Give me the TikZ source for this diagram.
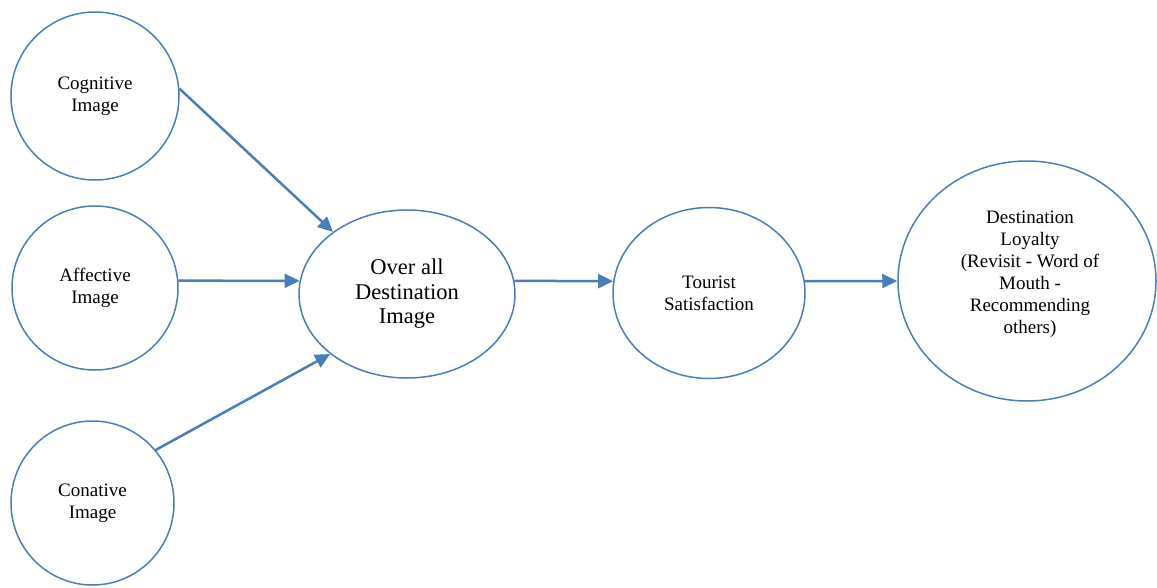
\documentclass[tikz,border=0pt]{standalone}
\usepackage{fontspec}
\setmainfont{Liberation Serif}
\usetikzlibrary{shapes.geometric,arrows.meta}
\definecolor{edge}{HTML}{4A7EBB}
\begin{document}
\begin{tikzpicture}[x=1pt,y=-1pt,
  bubble/.style={draw=edge,line width=1.5pt,ellipse,inner sep=0pt,align=center,
    font=\fontsize{19}{22}\selectfont},
  link/.style={draw=edge,line width=2.5pt,-{Triangle[length=15pt,width=14pt]}},
  lbl/.style={align=center,font=\fontsize{19}{22}\selectfont}]
\path[use as bounding box] (0,0) rectangle (1157,587);
\node[bubble,minimum width=168pt,minimum height=168pt] (cog) at (95,96) {Cognitive\\Image};
\node[bubble,minimum width=166pt,minimum height=164pt] (aff) at (95,288) {Affective\\Image};
\node[bubble,minimum width=163pt,minimum height=164pt] (con) at (92.5,503) {Conative\\Image};
\node[bubble,minimum width=216pt,minimum height=168pt,font=\fontsize{22.5}{24.5}\selectfont] (over) at (407,294) {Over all\\Destination\\Image};
\node[bubble,minimum width=192pt,minimum height=171pt] (tour) at (709,293) {Tourist\\Satisfaction};
\node[bubble,minimum width=258pt,minimum height=240pt] (loy) at (1027,281) {};
\node[lbl] (loytext) at (1030,274) {Destination\\Loyalty\\(Revisit - Word of\\Mouth -\\Recommending\\others)};
\draw[link] (cog.5) -- (over.140);
\draw[link] (aff.5) -- (over.173);
\draw[link] (con.40) -- (over.218);
\draw[link] (over.7) -- (tour.173);
\draw[link] (tour.7) -- (loy.180);
\end{tikzpicture}
\end{document}
